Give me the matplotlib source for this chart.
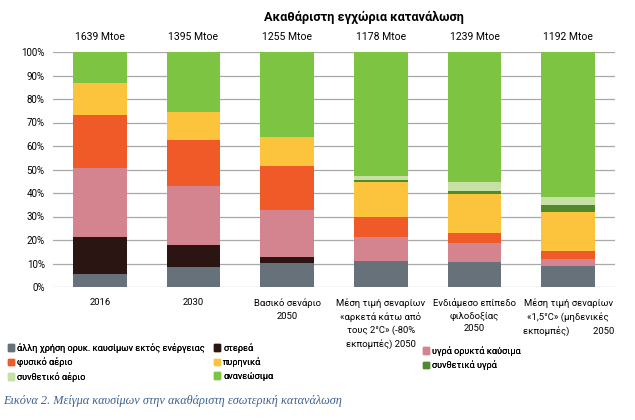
import numpy as np
import matplotlib
matplotlib.use("Agg")
import matplotlib.pyplot as plt
from matplotlib.patches import Patch

plt.rcParams['font.family'] = ['Roboto', 'DejaVu Sans']

# shares of gross inland consumption (%)
categories = ["2016", "2030", "Βασικό σενάριο\n2050",
              "Μέση τιμή σεναρίων\n«αρκετά κάτω από\nτους 2°C» (-80%\nεκπομπές) 2050",
              "Ενδιάμεσο επίπεδο\nφιλοδοξίας\n2050",
              "Μέση τιμή σεναρίων\n«1,5°C» (μηδενικές\nεκπομπές)          2050"]
totals = ["1639 Mtoe", "1395 Mtoe", "1255 Mtoe", "1178 Mtoe", "1239 Mtoe", "1192 Mtoe"]

series_names = ["άλλη χρήση ορυκ. καυσίμων εκτός ενέργειας", "στερεά",
                "υγρά ορυκτά καύσιμα", "φυσικό αέριο", "πυρηνικά",
                "συνθετικά υγρά", "συνθετικό αέριο", "ανανεώσιμα"]
other_fossil = [5.7, 8.5, 10.4, 10.9, 10.6, 8.8]
solids = [15.6, 9.2, 2.2, 0.2, 0.2, 0.3]
liquid_fossil = [29.3, 25.3, 20.0, 10.2, 7.9, 2.8]
natural_gas = [22.8, 19.7, 18.9, 8.5, 4.4, 3.4]
nuclear = [13.4, 11.6, 12.3, 14.9, 16.3, 16.6]
synth_liquids = [0, 0, 0, 1.0, 1.3, 2.9]
synth_gas = [0, 0, 0, 1.4, 4.0, 3.5]
renewables = [13.2, 25.7, 36.2, 52.9, 55.3, 61.7]

colors = ["#66717a", "#2a1512", "#d4848f", "#f05a28", "#fcc43c",
          "#4f8a2c", "#c6e0a6", "#7dc443"]

series = [other_fossil, solids, liquid_fossil, natural_gas, nuclear,
          synth_liquids, synth_gas, renewables]

fig = plt.figure(figsize=(6.35, 4.2), dpi=100)
ax = fig.add_axes([53/635, 1-287/420, 562/635, 235/420])

x = np.arange(len(categories))
bottom = np.zeros(len(categories))
for vals, col in zip(series, colors):
    ax.bar(x, vals, 0.575, bottom=bottom, color=col, zorder=2)
    bottom += np.array(vals)

ax.set_xlim(-0.5, len(categories) - 0.5)
ax.set_ylim(0, 100)
ax.set_yticks(np.arange(0, 101, 10))
ax.set_yticklabels([f"{v}%" for v in range(0, 101, 10)], fontsize=7)
ax.set_xticks(x)
ax.set_xticklabels(categories, fontsize=6.8, linespacing=1.52)
ax.tick_params(axis='both', length=0)
ax.tick_params(axis='x', pad=8)
ax.tick_params(axis='y', pad=6)
ax.grid(axis='y', color='#a8a8a8', lw=0.9, zorder=0)
for s in ax.spines.values():
    s.set_visible(False)

for xi, t in zip(x, totals):
    ax.text(xi, 106.4, t, ha='center', va='center', fontsize=7.5, clip_on=False)

fig.text(364/635, 1-17/420, "Ακαθάριστη εγχώρια κατανάλωση", ha='center',
         va='center', fontsize=9.2, fontweight='bold')

handles = [Patch(color=c, label=n) for c, n in zip(colors, series_names)]
cols = [[0, 3, 6], [1, 4, 7], [2, 5]]
anchors = [(8, 343), (214, 343), (423, 346)]
for idx, (ax_x, ax_y) in zip(cols, anchors):
    leg = fig.legend([handles[i] for i in idx], [series_names[i] for i in idx],
                     loc='upper left', bbox_to_anchor=(ax_x/635, 1-ax_y/420),
                     frameon=False, fontsize=6.6, handlelength=0.7,
                     handleheight=0.7, handletextpad=0.3, labelspacing=0.5,
                     borderpad=0, borderaxespad=0)
    fig.add_artist(leg)

fig.text(3/635, 1-401/420, "Εικόνα 2. Μείγμα καυσίμων στην ακαθάριστη εσωτερική κατανάλωση",
         ha='left', va='center', fontsize=8.8, style='italic', color='#3d5f90',
         family=['Liberation Serif', 'DejaVu Serif'])

fig.savefig("out.png", dpi=100, facecolor='white')
